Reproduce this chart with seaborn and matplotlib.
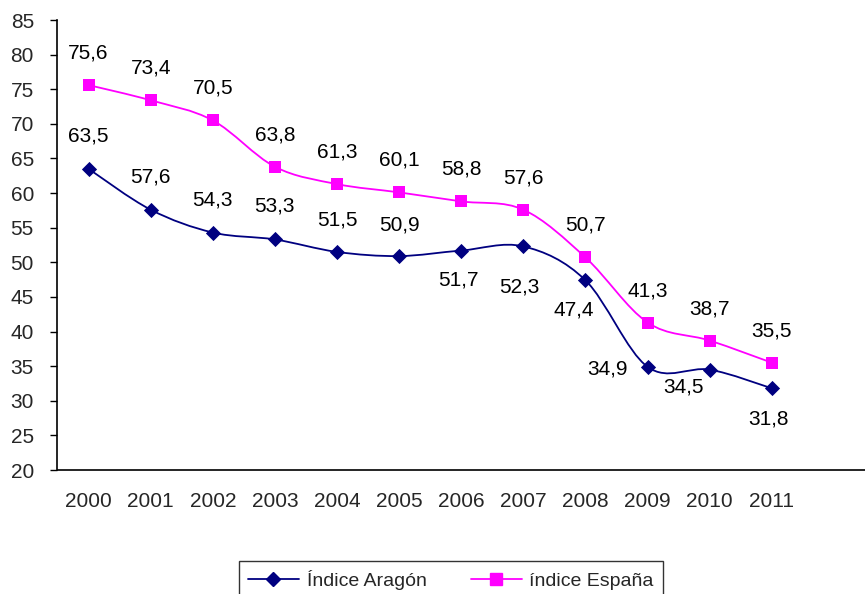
import numpy as np
import pandas as pd
import matplotlib
matplotlib.use("Agg")
import matplotlib.pyplot as plt
from matplotlib.path import Path
from matplotlib.patches import PathPatch
from matplotlib.lines import Line2D
import seaborn as sns

years = ["2000", "2001", "2002", "2003", "2004", "2005",
         "2006", "2007", "2008", "2009", "2010", "2011"]
aragon = [63.5, 57.6, 54.3, 53.3, 51.5, 50.9, 51.7, 52.3, 47.4, 34.9, 34.5, 31.8]
espana = [75.6, 73.4, 70.5, 63.8, 61.3, 60.1, 58.8, 57.6, 50.7, 41.3, 38.7, 35.5]
y_ticks = [20, 25, 30, 35, 40, 45, 50, 55, 60, 65, 70, 75, 80, 85]

# label offsets in pixels (dx, dy) for the Aragón series
aragon_offsets = [(0, 33), (0, 33), (0, 33), (0, 33), (0, 32), (0, 31),
                  (-3, -29), (-4, -41), (-12, -30), (-40, -2), (-26, -17), (-3, -31)]
espana_offsets = [(0, 32)] * 12

C_ARA = "#000080"
C_ESP = "#FF00FF"

sns.set_theme(style="white")
plt.rcParams["font.family"] = ["Liberation Sans", "DejaVu Sans"]
FS = 15

df = pd.DataFrame({"x": np.arange(len(years)), "Aragon": aragon, "Espana": espana})

fig = plt.figure(figsize=(8.65, 5.94), dpi=100)
ax = fig.add_axes([57.5 / 865, 1 - 470 / 594, 1 - 57.5 / 865, (470 - 20) / 594])


def smooth_path(xs, ys):
    """Bezier path through the points, Excel-style smoothing."""
    pts = np.column_stack([xs, ys]).astype(float)
    n = len(pts)
    verts = [pts[0]]
    codes = [Path.MOVETO]
    for i in range(n - 1):
        p0 = pts[i - 1] if i > 0 else pts[i]
        p1, p2 = pts[i], pts[i + 1]
        p3 = pts[i + 2] if i + 2 < n else pts[i + 1]
        c1 = p1 + (p2 - p0) / 6.0
        c2 = p2 - (p3 - p1) / 6.0
        verts += [c1, c2, p2]
        codes += [Path.CURVE4] * 3
    return Path(verts, codes)


for col, color in (("Aragon", C_ARA), ("Espana", C_ESP)):
    ax.add_patch(PathPatch(smooth_path(df["x"], df[col]), facecolor="none",
                           edgecolor=color, lw=1.3, zorder=2))

sns.scatterplot(data=df, x="x", y="Aragon", marker="D", s=60, color=C_ARA,
                edgecolor=C_ARA, linewidth=0, ax=ax, zorder=3)
sns.scatterplot(data=df, x="x", y="Espana", marker="s", s=75, color=C_ESP,
                edgecolor=C_ESP, linewidth=0, ax=ax, zorder=3)

for i, v in enumerate(aragon):
    dx, dy = aragon_offsets[i]
    ax.annotate(f"{v:.1f}".replace(".", ","), (i, v), xytext=(dx, dy),
                textcoords="offset pixels", ha="center", va="center",
                fontsize=FS, color="black")
for i, v in enumerate(espana):
    dx, dy = espana_offsets[i]
    ax.annotate(f"{v:.1f}".replace(".", ","), (i, v), xytext=(dx, dy),
                textcoords="offset pixels", ha="center", va="center",
                fontsize=FS, color="black")

ax.set_ylim(20, 85)
ax.set_yticks(y_ticks)
ax.set_yticklabels([str(t) for t in y_ticks], fontsize=FS)
ax.set_xlim(-0.5, (865 - 89) / 62.9)
ax.set_xticks(np.arange(-0.5, 13.0, 1.0))
ax.set_xticklabels([])
ax.set_xticks(np.arange(len(years)), minor=True)
ax.set_xticklabels(years, minor=True, fontsize=FS)
ax.tick_params(axis="x", which="major", direction="out", length=6, width=1,
               color="black")
ax.tick_params(axis="x", which="minor", length=0, pad=16)
ax.tick_params(axis="y", direction="out", length=5, width=1, color="black",
               pad=12, left=True)
ax.set_xlabel("")
ax.set_ylabel("")
for s in ("top", "right"):
    ax.spines[s].set_visible(False)
for s in ("left", "bottom"):
    ax.spines[s].set_color("black")
    ax.spines[s].set_linewidth(1.2)
ax.grid(False)

handles = [
    Line2D([], [], color=C_ARA, lw=1.3, marker="D", markersize=7,
           markerfacecolor=C_ARA, markeredgecolor=C_ARA),
    Line2D([], [], color=C_ESP, lw=1.3, marker="s", markersize=8,
           markerfacecolor=C_ESP, markeredgecolor=C_ESP),
]
leg = fig.legend(handles, ["Índice Aragón", "índice España"], loc="upper center",
                 bbox_to_anchor=(451 / 865, 1 - 561 / 594), ncol=2, fontsize=14,
                 frameon=True, fancybox=False, edgecolor="black", handlelength=2.6,
                 columnspacing=2.3, borderpad=0.45, handletextpad=0.4,
                 borderaxespad=0)
leg.get_frame().set_linewidth(1.0)

fig.savefig("out.png", dpi=100)
